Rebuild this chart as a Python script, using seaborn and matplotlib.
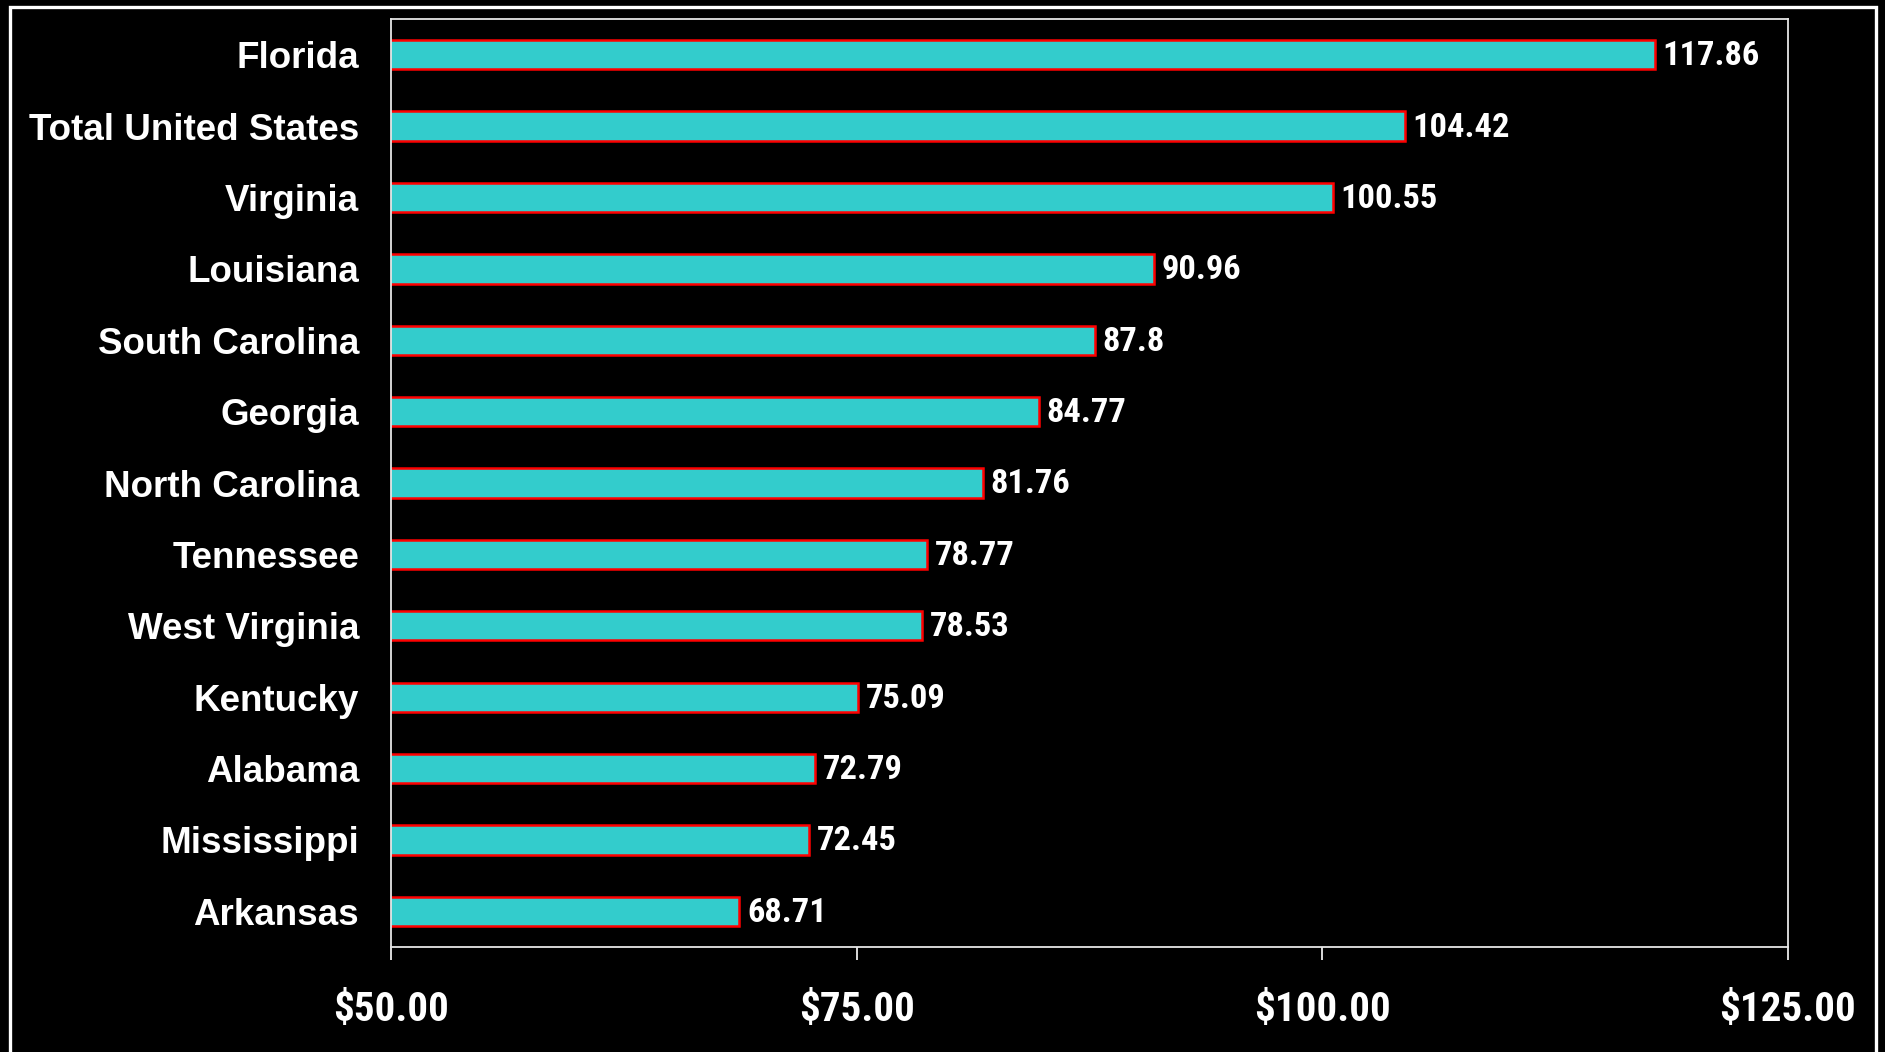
import matplotlib
matplotlib.use("Agg")
import matplotlib.pyplot as plt
from matplotlib import font_manager as fm
from matplotlib.patches import Rectangle
import seaborn as sns
import pandas as pd

states = ["Florida", "Total United States", "Virginia", "Louisiana", "South Carolina",
          "Georgia", "North Carolina", "Tennessee", "West Virginia", "Kentucky",
          "Alabama", "Mississippi", "Arkansas"]
values = [117.86, 104.42, 100.55, 90.96, 87.8, 84.77, 81.76, 78.77, 78.53, 75.09,
          72.79, 72.45, 68.71]
x_ticks = [50, 75, 100, 125]
x_tick_labels = ["$50.00", "$75.00", "$100.00", "$125.00"]

df = pd.DataFrame({"state": states, "value": values})

sns.set_theme(style="dark")

# prefer a narrow face for the numbers when one is installed
names = {f.name for f in fm.fontManager.ttflist}
narrow = None
for cand in ["Liberation Sans Narrow", "Arial Narrow", "Roboto Condensed",
             "Open Sans Condensed", "DejaVu Sans Condensed"]:
    if cand in names:
        narrow = cand
        break

wide = "Liberation Sans"
plt.rcParams["font.family"] = [wide, "DejaVu Sans"]
num_family = [narrow, wide] if narrow else [wide]
num_size = 24.8 if narrow else 23
tick_size = 29.5 if narrow else 24.5

fig = plt.figure(figsize=(18.85, 10.52), dpi=100, facecolor="black")
ax = fig.add_axes([0.2074, 0.0998, 0.7411, 0.8821])
ax.set_facecolor("black")

sns.barplot(data=df, x="value", y="state", orient="h", color="#33CCCC",
            saturation=1, width=0.41, edgecolor="#FF0000", linewidth=1.8, ax=ax)

ax.set_xlim(50, 125)
ax.set_ylim(len(states) - 0.5, -0.5)
ax.set_xlabel("")
ax.set_ylabel("")
ax.grid(False)

ax.set_xticks(x_ticks)
ax.set_xticklabels(x_tick_labels)
for lab in ax.get_xticklabels():
    lab.set_fontfamily(num_family)
    lab.set_fontweight("bold")
    lab.set_fontsize(tick_size)
    lab.set_color("white")
for lab in ax.get_yticklabels():
    lab.set_fontfamily([wide])
    lab.set_fontweight("bold")
    lab.set_fontsize(26.5)
    lab.set_color("white")

ax.tick_params(axis="x", bottom=True, length=9.5, width=1.2, color="white",
               direction="out", pad=22)
ax.tick_params(axis="y", left=False, length=0, pad=23)

for side in ["left", "bottom", "top", "right"]:
    ax.spines[side].set_visible(True)
    ax.spines[side].set_color("#e6e6e6")
    ax.spines[side].set_linewidth(1.3)

for i, v in enumerate(values):
    ax.annotate(f"{v:g}", xy=(v, i), xytext=(5.5, -1.0), textcoords="offset points",
                ha="left", va="center", color="white", fontweight="bold",
                fontsize=num_size, family=num_family)

# white frame around the slide area
fig.patches.append(Rectangle((10 / 1885, -0.05), 1866 / 1885, 1.05 - 7 / 1052,
                             transform=fig.transFigure, fill=False,
                             edgecolor="white", linewidth=2.4, zorder=0))

fig.savefig("out.png", dpi=100, facecolor="black")
